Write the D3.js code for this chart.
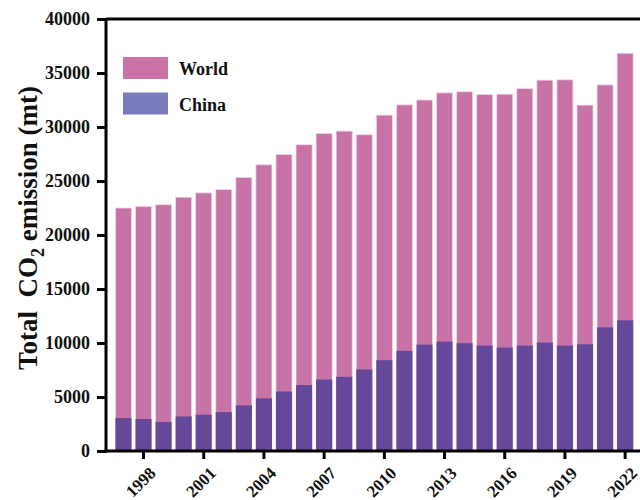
<!DOCTYPE html>
<html>
<head>
<meta charset="utf-8">
<script src="https://cdn.jsdelivr.net/npm/d3@7"></script>
<style>
  body { margin: 0; background: #fff; }
  svg text { font-family: "Liberation Serif", "Times New Roman", serif; font-weight: bold; fill: #111; }
</style>
</head>
<body>
<div id="chart"></div>
<script>
// years and emissions (mt)
var years = [1997, 1998, 1999, 2000, 2001, 2002, 2003, 2004, 2005, 2006, 2007, 2008, 2009,
             2010, 2011, 2012, 2013, 2014, 2015, 2016, 2017, 2018, 2019, 2020, 2021, 2022];
var world = [22500, 22650, 22800, 23500, 23900, 24200, 25330, 26500, 27450, 28360, 29400, 29620, 29280,
             31100, 32050, 32500, 33160, 33260, 33010, 33040, 33560, 34340, 34370, 32030, 33900, 36830];
var china = [3050, 2960, 2680, 3200, 3360, 3600, 4220, 4870, 5510, 6100, 6620, 6870, 7550,
             8410, 9270, 9850, 10130, 9980, 9760, 9580, 9760, 10040, 9760, 9880, 11450, 12100];
var yTicks = [0, 5000, 10000, 15000, 20000, 25000, 30000, 35000, 40000];
var xTickYears = [1998, 2001, 2004, 2007, 2010, 2013, 2016, 2019, 2022];
var legendItems = [{ name: "World", color: "#CB72A6" }, { name: "China", color: "#7B7CBE" }];

var W = 640, H = 500;
var margin = { top: 19, left: 106, bottom: 49 };

var svg = d3.select("#chart").append("svg")
  .attr("width", W)
  .attr("height", H);

var x = d3.scaleBand()
  .domain(years)
  .range([margin.left, 642.6])
  .paddingInner(0.2)
  .paddingOuter(0.47);

var y = d3.scaleLinear()
  .domain([0, 40000])
  .range([H - margin.bottom, margin.top]);

// world bars (full height), china drawn on top
svg.append("g").selectAll("rect")
  .data(years)
  .enter().append("rect")
  .attr("x", function (d) { return x(d); })
  .attr("width", x.bandwidth())
  .attr("y", function (d, i) { return y(world[i]); })
  .attr("height", function (d, i) { return y(0) - y(world[i]); })
  .attr("fill", "#C873A5")
  .attr("stroke", "#f3d6e6")
  .attr("stroke-width", 0.8);

svg.append("g").selectAll("rect")
  .data(years)
  .enter().append("rect")
  .attr("x", function (d) { return x(d); })
  .attr("width", x.bandwidth())
  .attr("y", function (d, i) { return y(china[i]); })
  .attr("height", function (d, i) { return y(0) - y(china[i]); })
  .attr("fill", "#66489A");

// y axis
var yAxis = svg.append("g")
  .attr("transform", "translate(" + margin.left + ",0)")
  .call(d3.axisLeft(y).tickValues(yTicks).tickFormat(d3.format("d"))
    .tickSize(9).tickPadding(7).tickSizeOuter(0));
yAxis.selectAll("text").style("font-size", "18px");

// x axis
var xAxis = svg.append("g")
  .attr("transform", "translate(0," + y(0) + ")")
  .call(d3.axisBottom(x).tickValues(xTickYears).tickSize(8).tickSizeOuter(0));
xAxis.selectAll("text")
  .style("font-size", "17px")
  .attr("text-anchor", "end")
  .attr("x", 0).attr("y", 0)
  .attr("dy", "0.35em")
  .attr("transform", "translate(9,19) rotate(-45)");

svg.selectAll(".domain, .tick line")
  .attr("stroke", "#000")
  .attr("stroke-width", 3);
xAxis.select(".domain").attr("d", "M" + (margin.left - 1.5) + ",0H640");
yAxis.select(".domain").attr("d", "M0," + (y(0) + 1.5) + "V" + margin.top);

// top frame line
svg.append("line")
  .attr("x1", margin.left).attr("x2", 640)
  .attr("y1", margin.top).attr("y2", margin.top)
  .attr("stroke", "#000").attr("stroke-width", 3);

// axis title
var title = svg.append("text")
  .attr("transform", "translate(37,228) rotate(-90)")
  .attr("text-anchor", "middle")
  .style("font-size", "27px");
title.append("tspan").text("Total\u00a0\u00a0CO");
title.append("tspan").attr("dy", 7).style("font-size", "18px").text("2");
title.append("tspan").attr("dy", -7).text(" emission (mt)");

// legend
var legend = svg.append("g").selectAll("g")
  .data(legendItems)
  .enter().append("g")
  .attr("transform", function (d, i) { return "translate(123," + (57 + i * 35.5) + ")"; });
legend.append("rect")
  .attr("width", 45).attr("height", 22)
  .attr("fill", function (d) { return d.color; });
legend.append("text")
  .attr("x", 56).attr("y", 18)
  .style("font-size", "18px")
  .text(function (d) { return d.name; });
</script>
</body>
</html>
